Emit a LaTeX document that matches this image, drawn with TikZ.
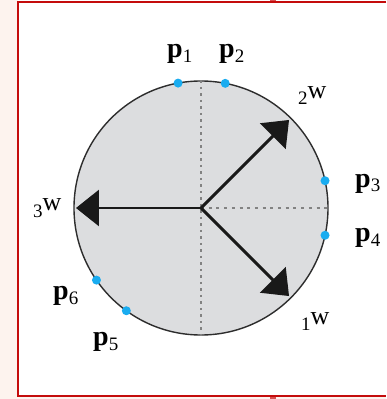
\documentclass[tikz,border=0pt]{standalone}
\usepackage{fontspec}
\setmainfont{Liberation Serif}
\usetikzlibrary{arrows.meta}
\definecolor{bgpink}{RGB}{253,243,238}
\definecolor{framered}{RGB}{196,12,12}
\definecolor{tickred}{RGB}{215,80,80}
\definecolor{diskgray}{RGB}{220,221,223}
\definecolor{rimgray}{RGB}{45,45,45}
\definecolor{dotgray}{RGB}{130,130,130}
\definecolor{ptblue}{RGB}{25,172,240}
\newcommand{\plab}[1]{{\fontsize{28}{28}\selectfont\bfseries p}\raisebox{-5pt}{\fontsize{19}{19}\selectfont #1}}
\newcommand{\wlab}[1]{{\fontsize{19}{19}\selectfont #1}\raisebox{6pt}{\fontsize{26}{26}\selectfont w}}
\tikzset{
  disk/.style={circle, draw=rimgray, fill=diskgray, line width=1.4pt, inner sep=0pt, minimum size=254pt},
  dotv/.style={dotgray, line width=2.4pt, dash pattern=on 2.5pt off 4pt},
  doth/.style={dotgray, line width=2.4pt, dash pattern=on 3pt off 4.7pt},
  vec/.style={black!90, line width=2.9pt, -{Triangle[length=23pt,width=36pt]}},
  ptdot/.style={circle, fill=ptblue, inner sep=0pt, minimum size=9pt},
  lab/.style={inner sep=0pt, anchor=base west},
  frame/.style={framered, line width=2pt}
}
\begin{document}
\begin{tikzpicture}[x=1pt, y=1pt]
\useasboundingbox (-201,-191) rectangle (185,208);
% background and frame
\fill[bgpink] (-201,-191) rectangle (185,208);
\fill[white] (-183,-188) rectangle (185,208);
\fill[tickred] (69,205) rectangle (75,208);
\fill[tickred] (69,-191) rectangle (75,-187);
\draw[frame] (185,206) -- (-183,206) -- (-183,-188) -- (185,-188);
% disk
\coordinate (o) at (0,0);
\node[disk] (dk) at (o) {};
\draw[dotv] (dk.north) -- (dk.south);
\draw[doth] (o) -- (dk.east);
% vectors
\coordinate (t1) at (-45:124.5);
\coordinate (t2) at (45:124.5);
\coordinate (t3) at (180:125);
\draw[vec] (o) -- (t1);
\draw[vec] (o) -- (t2);
\draw[vec] (o) -- (t3);
% points
\node[ptdot] (p1) at (100.4:127) {};
\node[ptdot] (p2) at (79:127) {};
\node[ptdot] (p3) at (12.4:127) {};
\node[ptdot] (p4) at (-12.4:127) {};
\node[ptdot] (p5) at (234:127) {};
\node[ptdot] (p6) at (214.6:127) {};
% labels
\node[lab] (l1) at (-34,150) {\plab{1}};
\node[lab] (l2) at (18,150) {\plab{2}};
\node[lab] (l3) at (154,21) {\plab{3}};
\node[lab] (l4) at (154,-33) {\plab{4}};
\node[lab] (l5) at (-108,-137) {\plab{5}};
\node[lab] (l6) at (-148,-91) {\plab{6}};
\node[lab] (w1) at (100,-122) {\wlab{1}};
\node[lab] (w2) at (97,103) {\wlab{2}};
\node[lab] (w3) at (-168,-9) {\wlab{3}};
\end{tikzpicture}
\end{document}
